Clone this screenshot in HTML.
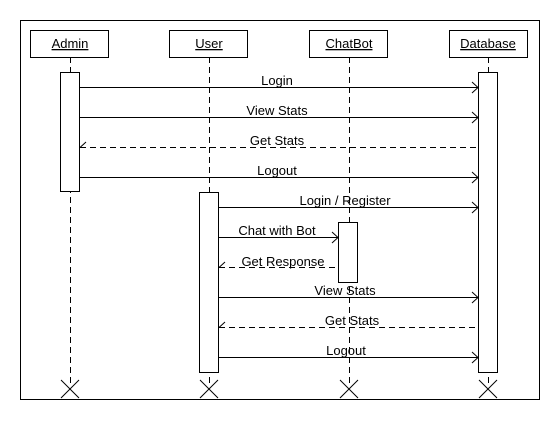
<!DOCTYPE html><html><head><style>body{margin:0;background:#fff}</style></head><body>
<svg width="560" height="420" xmlns="http://www.w3.org/2000/svg" font-family="Liberation Sans, Arial, sans-serif" font-size="13">
<rect x="0" y="0" width="560" height="420" fill="#fff"/>
<rect x="20.5" y="20.5" width="519" height="379" fill="none" stroke="#000"/>
<g stroke="#000" stroke-dasharray="6,4">
<line x1="70.5" y1="57" x2="70.5" y2="385"/>
<line x1="209.5" y1="57" x2="209.5" y2="385"/>
<line x1="349.5" y1="57" x2="349.5" y2="385"/>
<line x1="488.5" y1="57" x2="488.5" y2="385"/>
</g>
<g fill="#fff" stroke="#000">
<rect x="30.5" y="30.5" width="78" height="27"/>
<rect x="169.5" y="30.5" width="78" height="27"/>
<rect x="309.5" y="30.5" width="78" height="27"/>
<rect x="449.5" y="30.5" width="78" height="27"/>
<rect x="60.5" y="72.5" width="19" height="119"/>
<rect x="199.5" y="192.5" width="19" height="180"/>
<rect x="478.5" y="72.5" width="19" height="300"/>
</g>
<g text-anchor="middle" text-decoration="underline">
<text x="70" y="48">Admin</text><text x="209" y="48">User</text><text x="349" y="48">ChatBot</text><text x="488" y="48">Database</text>
</g>
<g stroke="#000" fill="none">
<path d="M61 380 L79 398 M79 380 L61 398"/>
<path d="M200 380 L218 398 M218 380 L200 398"/>
<path d="M340 380 L358 398 M358 380 L340 398"/>
<path d="M479 380 L497 398 M497 380 L479 398"/>
<line x1="80" y1="87.5" x2="478" y2="87.5"/><path d="M472 82 L478 87.5 L472 93"/>
<line x1="80" y1="117.5" x2="478" y2="117.5"/><path d="M472 112 L478 117.5 L472 123"/>
<line x1="80" y1="147.5" x2="478" y2="147.5" stroke-dasharray="6,4"/><path d="M86 142 L80 147.5"/>
<line x1="80" y1="177.5" x2="478" y2="177.5"/><path d="M472 172 L478 177.5 L472 183"/>
<line x1="219" y1="207.5" x2="478" y2="207.5"/><path d="M472 202 L478 207.5 L472 213"/>
<line x1="219" y1="237.5" x2="338" y2="237.5"/><path d="M332 232 L338 237.5 L332 243"/>
<line x1="219" y1="267.5" x2="338" y2="267.5" stroke-dasharray="6,4"/><path d="M225 262 L219 267.5"/>
<line x1="219" y1="297.5" x2="478" y2="297.5"/><path d="M472 292 L478 297.5 L472 303"/>
<line x1="219" y1="327.5" x2="478" y2="327.5" stroke-dasharray="6,4"/><path d="M225 322 L219 327.5"/>
<line x1="219" y1="357.5" x2="478" y2="357.5"/><path d="M472 352 L478 357.5 L472 363"/>
</g>
<rect x="338.5" y="222.5" width="19" height="60" fill="#fff" stroke="#000"/>
<g text-anchor="middle">
<text x="277" y="85">Login</text>
<text x="277" y="115">View Stats</text>
<text x="277" y="145">Get Stats</text>
<text x="277" y="175">Logout</text>
<text x="345" y="205">Login / Register</text>
<text x="277" y="235">Chat with Bot</text>
<text x="283" y="266">Get Response</text>
<text x="345" y="295">View Stats</text>
<text x="352" y="325">Get Stats</text>
<text x="346" y="355">Logout</text>
</g>
</svg>
</body></html>
